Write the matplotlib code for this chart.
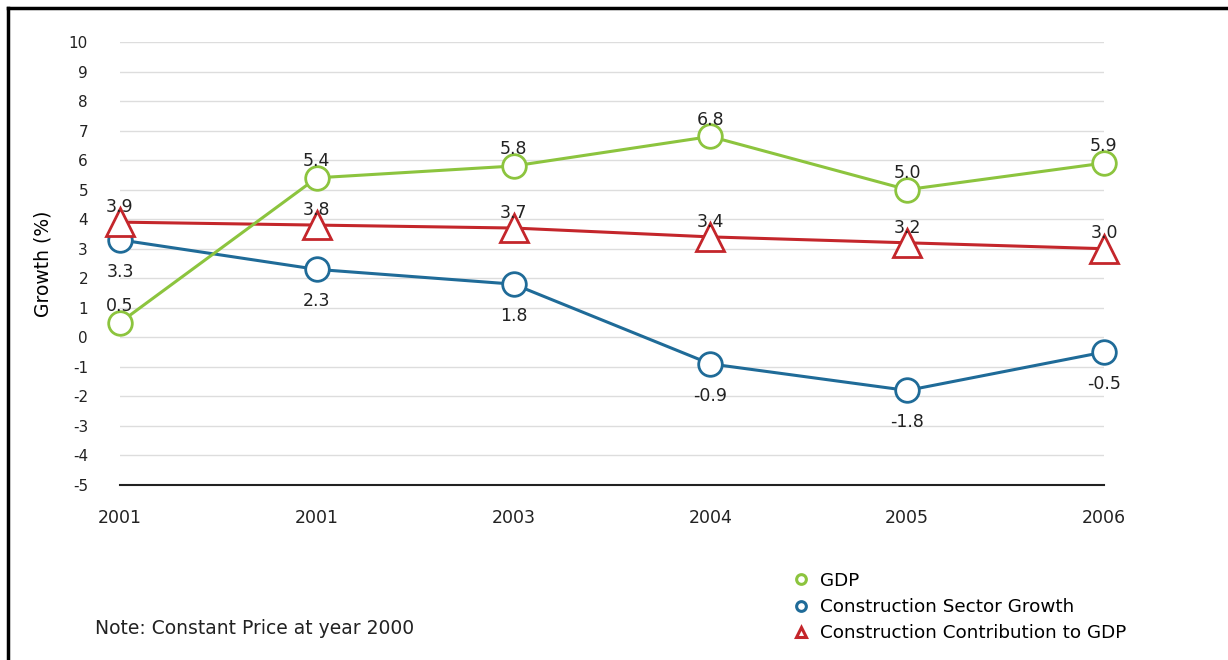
import matplotlib.pyplot as plt
from matplotlib.lines import Line2D

years = ['2001', '2001', '2003', '2004', '2005', '2006']
gdp = [0.5, 5.4, 5.8, 6.8, 5.0, 5.9]
sector = [3.3, 2.3, 1.8, -0.9, -1.8, -0.5]
contrib = [3.9, 3.8, 3.7, 3.4, 3.2, 3.0]

green = '#8cc43e'
blue = '#1f6b98'
red = '#c4262b'

plt.rcParams['font.family'] = ['DejaVu Sans']
plt.rcParams['axes.unicode_minus'] = False

fig = plt.figure(figsize=(12.28, 6.6), dpi=100)
ax = fig.add_axes([0.0977, 0.2652, 0.8013, 0.6712])

x = list(range(len(years)))

ax.plot(x, sector, color=blue, lw=2.2, marker='o', ms=17, mfc='white',
        mec=blue, mew=2.0, clip_on=False, zorder=3)
ax.plot(x, contrib, color=red, lw=2.2, marker='^', ms=20, mfc='white',
        mec=red, mew=2.0, clip_on=False, zorder=3)
ax.plot(x, gdp, color=green, lw=2.2, marker='o', ms=17, mfc='white',
        mec=green, mew=2.0, clip_on=False, zorder=4)

# point labels (offsets in points)
txt = dict(textcoords='offset points', ha='center', va='center',
           fontsize=12.5, color='#222222', zorder=5)
for i, v in enumerate(gdp):
    ax.annotate(f'{v:.1f}', (i, v), xytext=(0, 12), **txt)
for i, v in enumerate(contrib):
    ax.annotate(f'{v:.1f}', (i, v), xytext=(0, 11), **txt)
for i, v in enumerate(sector):
    ax.annotate(f'{v:.1f}', (i, v), xytext=(0, -23), **txt)

ax.set_xlim(0, 5)
ax.set_ylim(-5, 10)
ax.set_yticks(range(-5, 11))
ax.set_xticks(x)
ax.set_xticklabels(years)
ax.tick_params(axis='both', length=0, colors='#222222')
ax.tick_params(axis='y', labelsize=11, pad=23)
ax.tick_params(axis='x', labelsize=12.5, pad=17)
ax.grid(axis='y', color='#dddddd', lw=1)
ax.set_axisbelow(True)
for s in ['top', 'right', 'left']:
    ax.spines[s].set_visible(False)
ax.spines['bottom'].set_color('#222222')
ax.spines['bottom'].set_linewidth(1.5)
ax.set_ylabel('Growth (%)', fontsize=13.5, labelpad=12)

# legend
handles = [
    Line2D([], [], ls='none', marker='o', ms=7, mfc='white', mec=green, mew=2.2),
    Line2D([], [], ls='none', marker='o', ms=7, mfc='white', mec=blue, mew=2.2),
    Line2D([], [], ls='none', marker='^', ms=7, mfc='white', mec=red, mew=2.2),
]
fig.legend(handles, ['GDP', 'Construction Sector Growth', 'Construction Contribution to GDP'],
           loc='center left', bbox_to_anchor=(0.645, 0.0803), frameon=False,
           fontsize=13.2, handlelength=1.0, handletextpad=0.55, labelspacing=0.45,
           borderpad=0, borderaxespad=0)

fig.text(0.077, 0.04, 'Note: Constant Price at year 2000', fontsize=13.5, color='#222222')

# frame on top and left
fig.add_artist(Line2D([0.0065, 1.0], [0.988, 0.988], transform=fig.transFigure,
                      color='black', lw=2.5))
fig.add_artist(Line2D([0.0065, 0.0065], [0.0, 0.988], transform=fig.transFigure,
                      color='black', lw=2.5))

fig.savefig('out.png', dpi=100)
